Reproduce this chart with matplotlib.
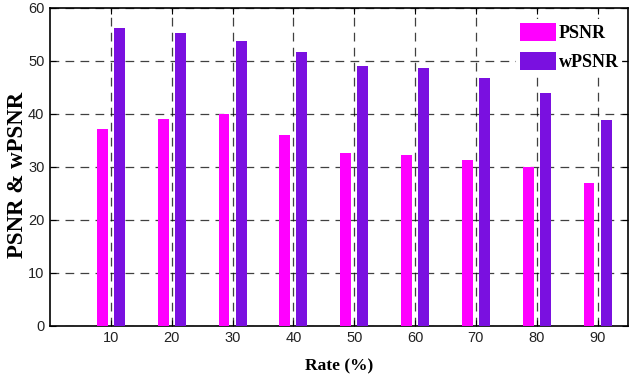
import matplotlib
matplotlib.use("Agg")
import matplotlib.pyplot as plt
import numpy as np

rates = [10, 20, 30, 40, 50, 60, 70, 80, 90]
psnr = [37.2, 39.1, 40.0, 36.0, 32.6, 32.3, 31.3, 29.9, 27.0]
wpsnr = [56.2, 55.3, 53.8, 51.7, 49.1, 48.7, 46.8, 44.0, 38.9]
yticks = [0, 10, 20, 30, 40, 50, 60]

fig = plt.figure(figsize=(6.33, 3.79), dpi=100)
ax = fig.add_axes([0.079, 0.14, 0.913, 0.839])

x = np.array(rates, dtype=float)
w = 1.8
ax.bar(x - 1.4, psnr, width=w, color="#ff00ff", label="PSNR", zorder=3)
ax.bar(x + 1.4, wpsnr, width=w, color="#7a10e0", label="wPSNR", zorder=3)

ax.set_xlim(0, 95)
ax.set_ylim(0, 60)
ax.set_xticks(rates)
ax.set_yticks(yticks)
tick_font = {"family": ["Liberation Sans Narrow", "Liberation Sans", "DejaVu Sans"], "size": 10.5}
ax.set_xticklabels([str(r) for r in rates], fontdict=tick_font, color="#222222")
ax.set_yticklabels([str(t) for t in yticks], fontdict=tick_font, color="#222222")
ax.tick_params(direction="in", top=True, right=True, length=4, width=0.8, pad=4)
ax.grid(True, color="black", linestyle=(0, (7, 5)), linewidth=0.9, alpha=0.75, zorder=1)
ax.set_axisbelow(True)
for s in ax.spines.values():
    s.set_linewidth(1.2)

ax.set_xlabel("Rate (%)", family="Liberation Serif", fontweight="bold", fontsize=12.5, labelpad=9)
ax.set_ylabel("PSNR & wPSNR", family="Liberation Serif", fontweight="bold", fontsize=16.5)
ax.yaxis.set_label_coords(-0.038, 0.475)

leg = ax.legend(loc="upper right", frameon=True, prop={"family": "Liberation Serif", "weight": "bold", "size": 13},
                handlelength=2.0, handleheight=1.15, handletextpad=0.15, labelspacing=0.55,
                borderpad=0.2, borderaxespad=0.0, fancybox=False,
                bbox_to_anchor=(0.99, 0.965))
leg.get_frame().set_facecolor("white")
leg.get_frame().set_edgecolor("none")
leg.get_frame().set_alpha(1.0)
leg.set_zorder(5)

fig.savefig("out.png", dpi=100)
